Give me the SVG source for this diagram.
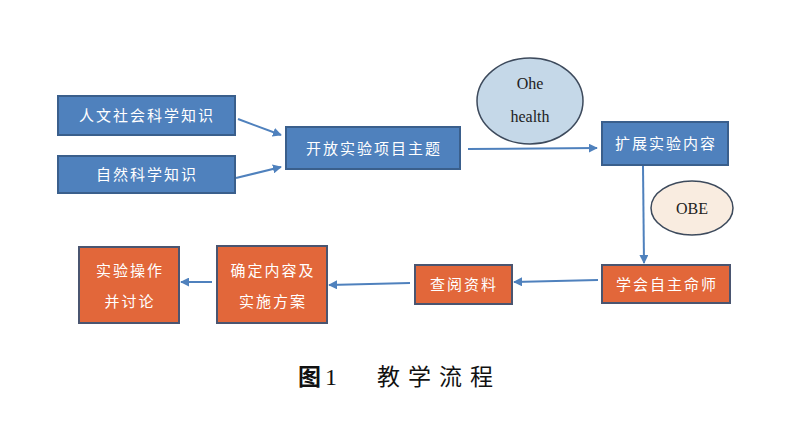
<svg xmlns="http://www.w3.org/2000/svg" width="800" height="439" viewBox="0 0 800 439">
<defs>
<marker id="ah" viewBox="0 0 10 10" refX="9" refY="5" markerWidth="9" markerHeight="9" markerUnits="userSpaceOnUse" orient="auto">
<path d="M0,0 L10,5 L0,10 z" fill="#4f81bd"/>
</marker>
<style>
.b{fill:#4f81bd;stroke:#3a5f8c;stroke-width:2}
.o{fill:#e2673a;stroke:#4a5570;stroke-width:2}
.t{font-family:"Noto Sans CJK SC","Noto Sans",sans-serif;font-size:15px;fill:#ffffff;text-anchor:middle;letter-spacing:2px}
.e{font-family:"Liberation Serif",serif;font-size:16px;fill:#222;text-anchor:middle}
.c{fill:none;stroke:#4f81bd;stroke-width:2;marker-end:url(#ah)}
</style>
</defs>
<rect width="800" height="439" fill="#ffffff"/>
<g id="connectors">
<line class="c" x1="238" y1="119" x2="281" y2="135"/>
<line class="c" x1="236" y1="178" x2="281" y2="167"/>
<line class="c" x1="468" y1="149" x2="597" y2="148"/>
<line class="c" x1="643" y1="166" x2="644" y2="263"/>
<line class="c" x1="598" y1="280" x2="514" y2="282"/>
<line class="c" x1="410" y1="283" x2="329" y2="285"/>
<line class="c" x1="212" y1="282" x2="181" y2="282"/>
</g>
<g id="n1"><rect class="b" x="58" y="96" width="177" height="39"/><text class="t" x="147" y="121">人文社会科学知识</text></g>
<g id="n2"><rect class="b" x="58" y="156" width="177" height="37"/><text class="t" x="147" y="180">自然科学知识</text></g>
<g id="n3"><rect class="b" x="286" y="127" width="174" height="42"/><text class="t" x="374" y="154">开放实验项目主题</text></g>
<g id="n4"><ellipse cx="530" cy="101" rx="53" ry="43" fill="#c5d8e8" stroke="#3d4a5c" stroke-width="1.5"/><text class="e" x="530" y="89">Ohe</text><text class="e" x="530" y="122">health</text></g>
<g id="n5"><rect class="b" x="602" y="122" width="126" height="43"/><text class="t" x="666" y="149">扩展实验内容</text></g>
<g id="n6"><ellipse cx="692" cy="208" rx="41" ry="27" fill="#f9ece0" stroke="#3d4a5c" stroke-width="1.5"/><text class="e" x="692" y="214">OBE</text></g>
<g id="n7"><rect class="o" x="602" y="265" width="128" height="38"/><text class="t" x="667" y="290">学会自主命师</text></g>
<g id="n8"><rect class="o" x="415" y="265" width="97" height="39"/><text class="t" x="464" y="290">查阅资料</text></g>
<g id="n9"><rect class="o" x="217" y="246" width="110" height="77"/><text class="t" x="273" y="276">确定内容及</text><text class="t" x="273" y="307">实施方案</text></g>
<g id="n10"><rect class="o" x="79" y="247" width="100" height="76"/><text class="t" x="130" y="276">实验操作</text><text class="t" x="130" y="307">并讨论</text></g>
<text x="298" y="385" font-family="Noto Sans CJK SC,sans-serif" font-size="23" font-weight="bold" fill="#111">图</text>
<text x="325" y="385" font-family="Liberation Serif,serif" font-size="24" fill="#111">1</text>
<text x="377" y="385" font-family="Noto Sans CJK SC,sans-serif" font-size="23" fill="#111" letter-spacing="8">教学流程</text>
</svg>
